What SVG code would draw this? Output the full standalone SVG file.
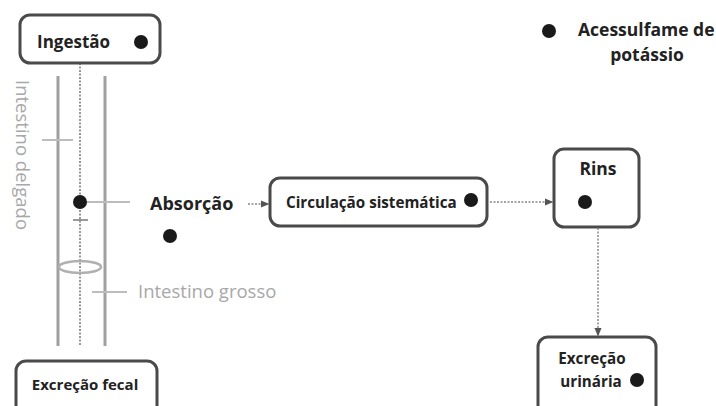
<svg xmlns="http://www.w3.org/2000/svg" width="716" height="406" viewBox="0 0 716 406">
<defs>
<style>
.box{fill:#fff;stroke:#4a4a4a;stroke-width:3}
.lbl{font-family:"Open Sans","Noto Sans","Liberation Sans",sans-serif;font-weight:bold;fill:#222}
.gray{font-family:"Open Sans","Noto Sans","Liberation Sans",sans-serif;fill:#a8a8a8;font-size:18.5px}
.tube{stroke:#a0a0a0;stroke-width:3;fill:none}
.thin{stroke:#bdbdbd;stroke-width:2;fill:none}
.dot{fill:#1a1a1a}
.conn{stroke:#888;stroke-width:1.5;stroke-dasharray:2 1.5;fill:none}
</style>
<marker id="arr" viewBox="0 0 6 6" refX="5" refY="3" markerWidth="6" markerHeight="6" orient="auto">
<path d="M0,0.5 L6,3 L0,5.5 z" fill="#555"/>
</marker>
</defs>
<rect width="716" height="406" fill="#fff"/>
<g id="intestine">
<line class="tube" x1="58" y1="76" x2="58" y2="346"/>
<line class="tube" x1="105" y1="76" x2="105" y2="346"/>
<line x1="80" y1="63" x2="80" y2="346" stroke="#777" stroke-width="1.5" stroke-dasharray="2 1.5"/>
<line class="thin" x1="42" y1="140" x2="73" y2="140"/>
<line class="thin" x1="84" y1="202" x2="130" y2="202"/>
<line x1="73" y1="220" x2="88" y2="220" stroke="#777" stroke-width="1.5"/>
<ellipse cx="80" cy="267" rx="21" ry="6" fill="none" stroke="#b0b0b0" stroke-width="2.5"/>
<line class="thin" x1="92" y1="292" x2="127" y2="292"/>
<circle class="dot" cx="80" cy="202" r="7"/>
<text class="gray" transform="translate(16,80) rotate(90)">Intestino delgado</text>
<text class="gray" x="138" y="298">Intestino grosso</text>
</g>
<g id="ingestao">
<rect class="box" x="20" y="15" width="140" height="48" rx="10"/>
<text class="lbl" x="37" y="48" font-size="17">Ingestão</text>
<circle class="dot" cx="141" cy="42" r="7"/>
</g>
<g id="absorcao">
<text class="lbl" x="150" y="210" font-size="18">Absorção</text>
<circle class="dot" cx="170" cy="236" r="7"/>
</g>
<g id="circulacao">
<rect class="box" x="270" y="178" width="217" height="48" rx="10"/>
<text class="lbl" x="286" y="208" font-size="15.2">Circulação sistemática</text>
<circle class="dot" cx="471" cy="200" r="7"/>
</g>
<g id="rins">
<rect class="box" x="554" y="149" width="85" height="78" rx="10"/>
<text class="lbl" x="598" y="175" font-size="17.5" text-anchor="middle">Rins</text>
<circle class="dot" cx="585" cy="202" r="7"/>
</g>
<g id="excrecao-urinaria">
<rect class="box" x="538" y="337" width="118" height="80" rx="10"/>
<text class="lbl" x="592" y="364" font-size="15.2" text-anchor="middle">Excreção</text>
<text class="lbl" x="591" y="387" font-size="15.2" text-anchor="middle">urinária</text>
<circle class="dot" cx="637" cy="380" r="7"/>
</g>
<g id="excrecao-fecal">
<rect class="box" x="16" y="361" width="141" height="56" rx="10"/>
<text class="lbl" x="85" y="390" font-size="15" text-anchor="middle">Excreção fecal</text>
</g>
<g id="legenda">
<circle class="dot" cx="549" cy="31" r="7"/>
<text class="lbl" x="578" y="36" font-size="17.5">Acessulfame de</text>
<text class="lbl" x="647" y="61" font-size="17.5" text-anchor="middle">potássio</text>
</g>
<g id="connectors">
<line class="conn" x1="248" y1="204" x2="268" y2="204" marker-end="url(#arr)"/>
<line class="conn" x1="490" y1="202" x2="552" y2="202" marker-end="url(#arr)"/>
<line class="conn" x1="598" y1="228" x2="598" y2="335" marker-end="url(#arr)"/>
</g>
</svg>
